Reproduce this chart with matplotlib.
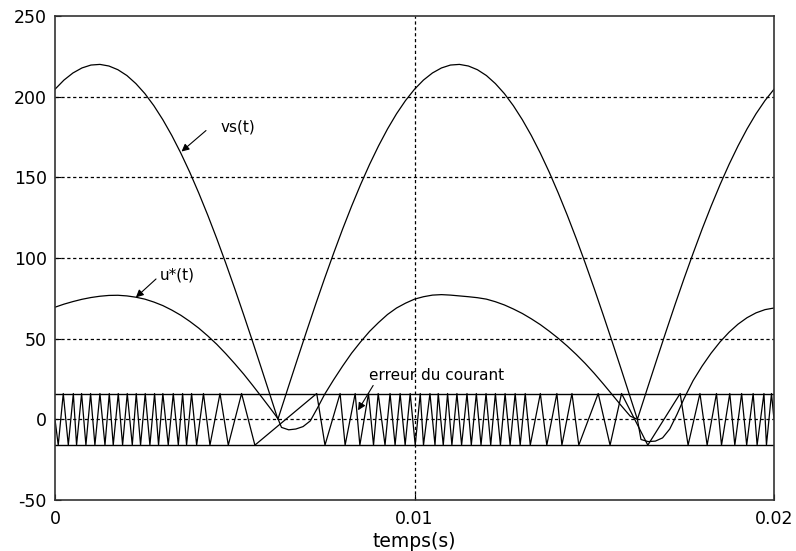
import matplotlib
matplotlib.use("Agg")
import matplotlib.pyplot as plt

plt.rcParams['font.family'] = ['DejaVu Sans']

# time axis for the supply voltage (s)
t_vs = [0.00000, 0.00025, 0.00050, 0.00075, 0.00100, 0.00125, 0.00150,
        0.00175, 0.00200, 0.00225, 0.00250, 0.00275, 0.00300, 0.00325,
        0.00350, 0.00375, 0.00400, 0.00425, 0.00450, 0.00475, 0.00500,
        0.00525, 0.00550, 0.00575, 0.00600, 0.00610, 0.00620, 0.00630,
        0.00650, 0.00675, 0.00700, 0.00725, 0.00750, 0.00775, 0.00800,
        0.00825, 0.00850, 0.00875, 0.00900, 0.00925, 0.00950, 0.00975,
        0.01000, 0.01025, 0.01050, 0.01075, 0.01100, 0.01125, 0.01150,
        0.01175, 0.01200, 0.01225, 0.01250, 0.01275, 0.01300, 0.01325,
        0.01350, 0.01375, 0.01400, 0.01425, 0.01450, 0.01475, 0.01500,
        0.01525, 0.01550, 0.01575, 0.01600, 0.01610, 0.01620, 0.01630,
        0.01650, 0.01675, 0.01700, 0.01725, 0.01750, 0.01775, 0.01800,
        0.01825, 0.01850, 0.01875, 0.01900, 0.01925, 0.01950, 0.01975,
        0.02000]

# rectified supply voltage vs(t)
vs = [204.6, 210.3, 214.7, 217.8, 219.6, 220.0, 219.0,
      216.7, 213.1, 208.1, 201.9, 194.4, 185.7, 175.9,
      165.0, 153.1, 140.2, 126.5, 112.0, 96.8, 81.0,
      64.7, 48.0, 31.0, 13.8, 6.9, 0.0, 6.9,
      20.7, 37.8, 54.7, 71.3, 87.4, 102.9, 117.9,
      132.1, 145.5, 158.0, 169.5, 180.0, 189.4, 197.6,
      204.6, 210.3, 214.7, 217.8, 219.6, 220.0, 219.0,
      216.7, 213.1, 208.1, 201.9, 194.4, 185.7, 175.9,
      165.0, 153.1, 140.2, 126.5, 112.0, 96.8, 81.0,
      64.7, 48.0, 31.0, 13.8, 6.9, 0.0, 6.9,
      20.7, 37.8, 54.7, 71.3, 87.4, 102.9, 117.9,
      132.1, 145.5, 158.0, 169.5, 180.0, 189.4, 197.6,
      204.6]

# reference voltage u*(t)
t_u = [0.00000, 0.00025, 0.00050, 0.00075, 0.00100, 0.00125, 0.00150,
       0.00175, 0.00200, 0.00225, 0.00250, 0.00275, 0.00300, 0.00325,
       0.00350, 0.00375, 0.00400, 0.00425, 0.00450, 0.00475, 0.00500,
       0.00525, 0.00550, 0.00575, 0.00600, 0.00620, 0.00630, 0.00650,
       0.00670, 0.00690, 0.00710, 0.00730, 0.00750, 0.00775, 0.00800,
       0.00825, 0.00850, 0.00875, 0.00900, 0.00925, 0.00950, 0.00975,
       0.01000, 0.01025, 0.01050, 0.01075, 0.01100, 0.01125, 0.01150,
       0.01175, 0.01200, 0.01225, 0.01250, 0.01275, 0.01300, 0.01325,
       0.01350, 0.01375, 0.01400, 0.01425, 0.01450, 0.01475, 0.01500,
       0.01525, 0.01550, 0.01575, 0.01600, 0.01620, 0.01630, 0.01650,
       0.01670, 0.01690, 0.01710, 0.01730, 0.01750, 0.01775, 0.01800,
       0.01825, 0.01850, 0.01875, 0.01900, 0.01925, 0.01950, 0.01975,
       0.02000]
u_star = [69.5, 71.4, 73.0, 74.4, 75.5, 76.3, 76.8,
          76.9, 76.5, 75.7, 74.5, 72.7, 70.5, 67.7,
          64.5, 60.7, 56.5, 51.7, 46.5, 40.7, 34.5,
          28.0, 21.0, 13.8, 6.5, 0.5, -5.0, -6.5,
          -6.0, -4.5, -1.0, 7.0, 15.5, 24.5, 33.0,
          41.0, 48.0, 54.5, 60.0, 65.0, 69.0, 72.0,
          74.5, 76.0, 77.0, 77.3, 77.0, 76.5, 76.0,
          75.4, 74.5, 72.9, 70.9, 68.4, 65.6, 62.3,
          58.7, 54.6, 50.2, 45.4, 40.2, 34.6, 28.5,
          22.0, 15.3, 8.5, 2.0, 0.0, -12.5, -13.8,
          -13.5, -11.5, -6.0, 3.0, 13.0, 24.0, 33.0,
          41.0, 48.0, 54.0, 59.0, 63.0, 66.0, 68.0,
          69.0]

# hysteresis band of the current error
band = 16.0

# turning points of the current error (s), alternating between the band edges
t_err = [0.00000, 0.00009, 0.00023, 0.00037, 0.00051, 0.00060, 0.00074,
         0.00086, 0.00099, 0.00111, 0.00125, 0.00139, 0.00151, 0.00162,
         0.00176, 0.00188, 0.00201, 0.00215, 0.00226, 0.00238, 0.00251,
         0.00264, 0.00277, 0.00288, 0.00300, 0.00315, 0.00329, 0.00343,
         0.00355, 0.00366, 0.00380, 0.00394, 0.00413, 0.00431, 0.00459,
         0.00482, 0.00519, 0.00556, 0.00728, 0.00751, 0.00793, 0.00807,
         0.00835, 0.00848, 0.00872, 0.00886, 0.00899, 0.00918, 0.00932,
         0.00946, 0.00960, 0.00974, 0.00988, 0.01002, 0.01016, 0.01025,
         0.01043, 0.01057, 0.01066, 0.01080, 0.01092, 0.01104, 0.01118,
         0.01131, 0.01146, 0.01158, 0.01172, 0.01185, 0.01199, 0.01212,
         0.01225, 0.01239, 0.01252, 0.01266, 0.01280, 0.01294, 0.01308,
         0.01322, 0.01350, 0.01368, 0.01396, 0.01410, 0.01438, 0.01457,
         0.01511, 0.01544, 0.01576, 0.01649, 0.01739, 0.01761, 0.01794,
         0.01814, 0.01840, 0.01854, 0.01877, 0.01891, 0.01910, 0.01924,
         0.01942, 0.01953, 0.01972, 0.01979, 0.01993, 0.02000]
err_level = [0] + [(-1) ** (k + 1) for k in range(len(t_err) - 2)] + [0]
e_err = [band * s for s in err_level]

x_ticks = [0, 0.01, 0.02]
x_tick_labels = ['0', '0.01', '0.02']
y_ticks = [-50, 0, 50, 100, 150, 200, 250]
y_tick_labels = ['-50', '0', '50', '100', '150', '200', '250']

fig = plt.figure(figsize=(7.96, 5.51), dpi=100)
ax = fig.add_axes([55 / 796, 51 / 551, 719 / 796, 484 / 551])

ax.plot(t_vs, vs, color='black', lw=0.9)
ax.plot(t_u, u_star, color='black', lw=0.9)
ax.plot(t_err, e_err, color='black', lw=0.9)
ax.axhline(band, color='black', lw=1.0)
ax.axhline(-band, color='black', lw=1.0)

ax.set_xlim(0, 0.02)
ax.set_ylim(-50, 250)
ax.set_xticks(x_ticks)
ax.set_xticklabels(x_tick_labels)
ax.set_yticks(y_ticks)
ax.set_yticklabels(y_tick_labels)
ax.tick_params(direction='in', length=4, width=0.8, labelsize=12.5,
               colors='black')
ax.tick_params(axis='y', pad=6)
ax.tick_params(axis='x', pad=7)

# dashed grid at the interior ticks only
grid_dash = (0, (2.6, 2.1))
for y in [0, 50, 100, 150, 200]:
    ax.axhline(y, color='black', lw=0.9, ls=grid_dash, zorder=0)
ax.axvline(0.01, color='black', lw=0.9, ls=grid_dash, zorder=0)

for s in ax.spines.values():
    s.set_linewidth(1.2)
    s.set_color('#333333')

ax.set_xlabel('temps(s)', fontsize=13.5, va='center')
ax.xaxis.set_label_coords(0.5, -0.085)

arrow = dict(arrowstyle='-|>', color='black', lw=0.8, mutation_scale=11,
             shrinkA=0, shrinkB=0)
ax.annotate('', xy=(0.00352, 166.0), xytext=(0.00420, 179.0), arrowprops=arrow)
ax.text(0.00510, 181.5, 'vs(t)', fontsize=11, ha='center', va='center')

ax.annotate('', xy=(0.00225, 75.6), xytext=(0.00281, 87.0), arrowprops=arrow)
ax.text(0.00340, 89.3, 'u*(t)', fontsize=11, ha='center', va='center')

ax.annotate('', xy=(0.00843, 5.6), xytext=(0.00885, 21.0), arrowprops=arrow)
ax.text(0.01060, 27.3, 'erreur du courant', fontsize=11, ha='center',
        va='center')

fig.savefig('out.png', dpi=100)
